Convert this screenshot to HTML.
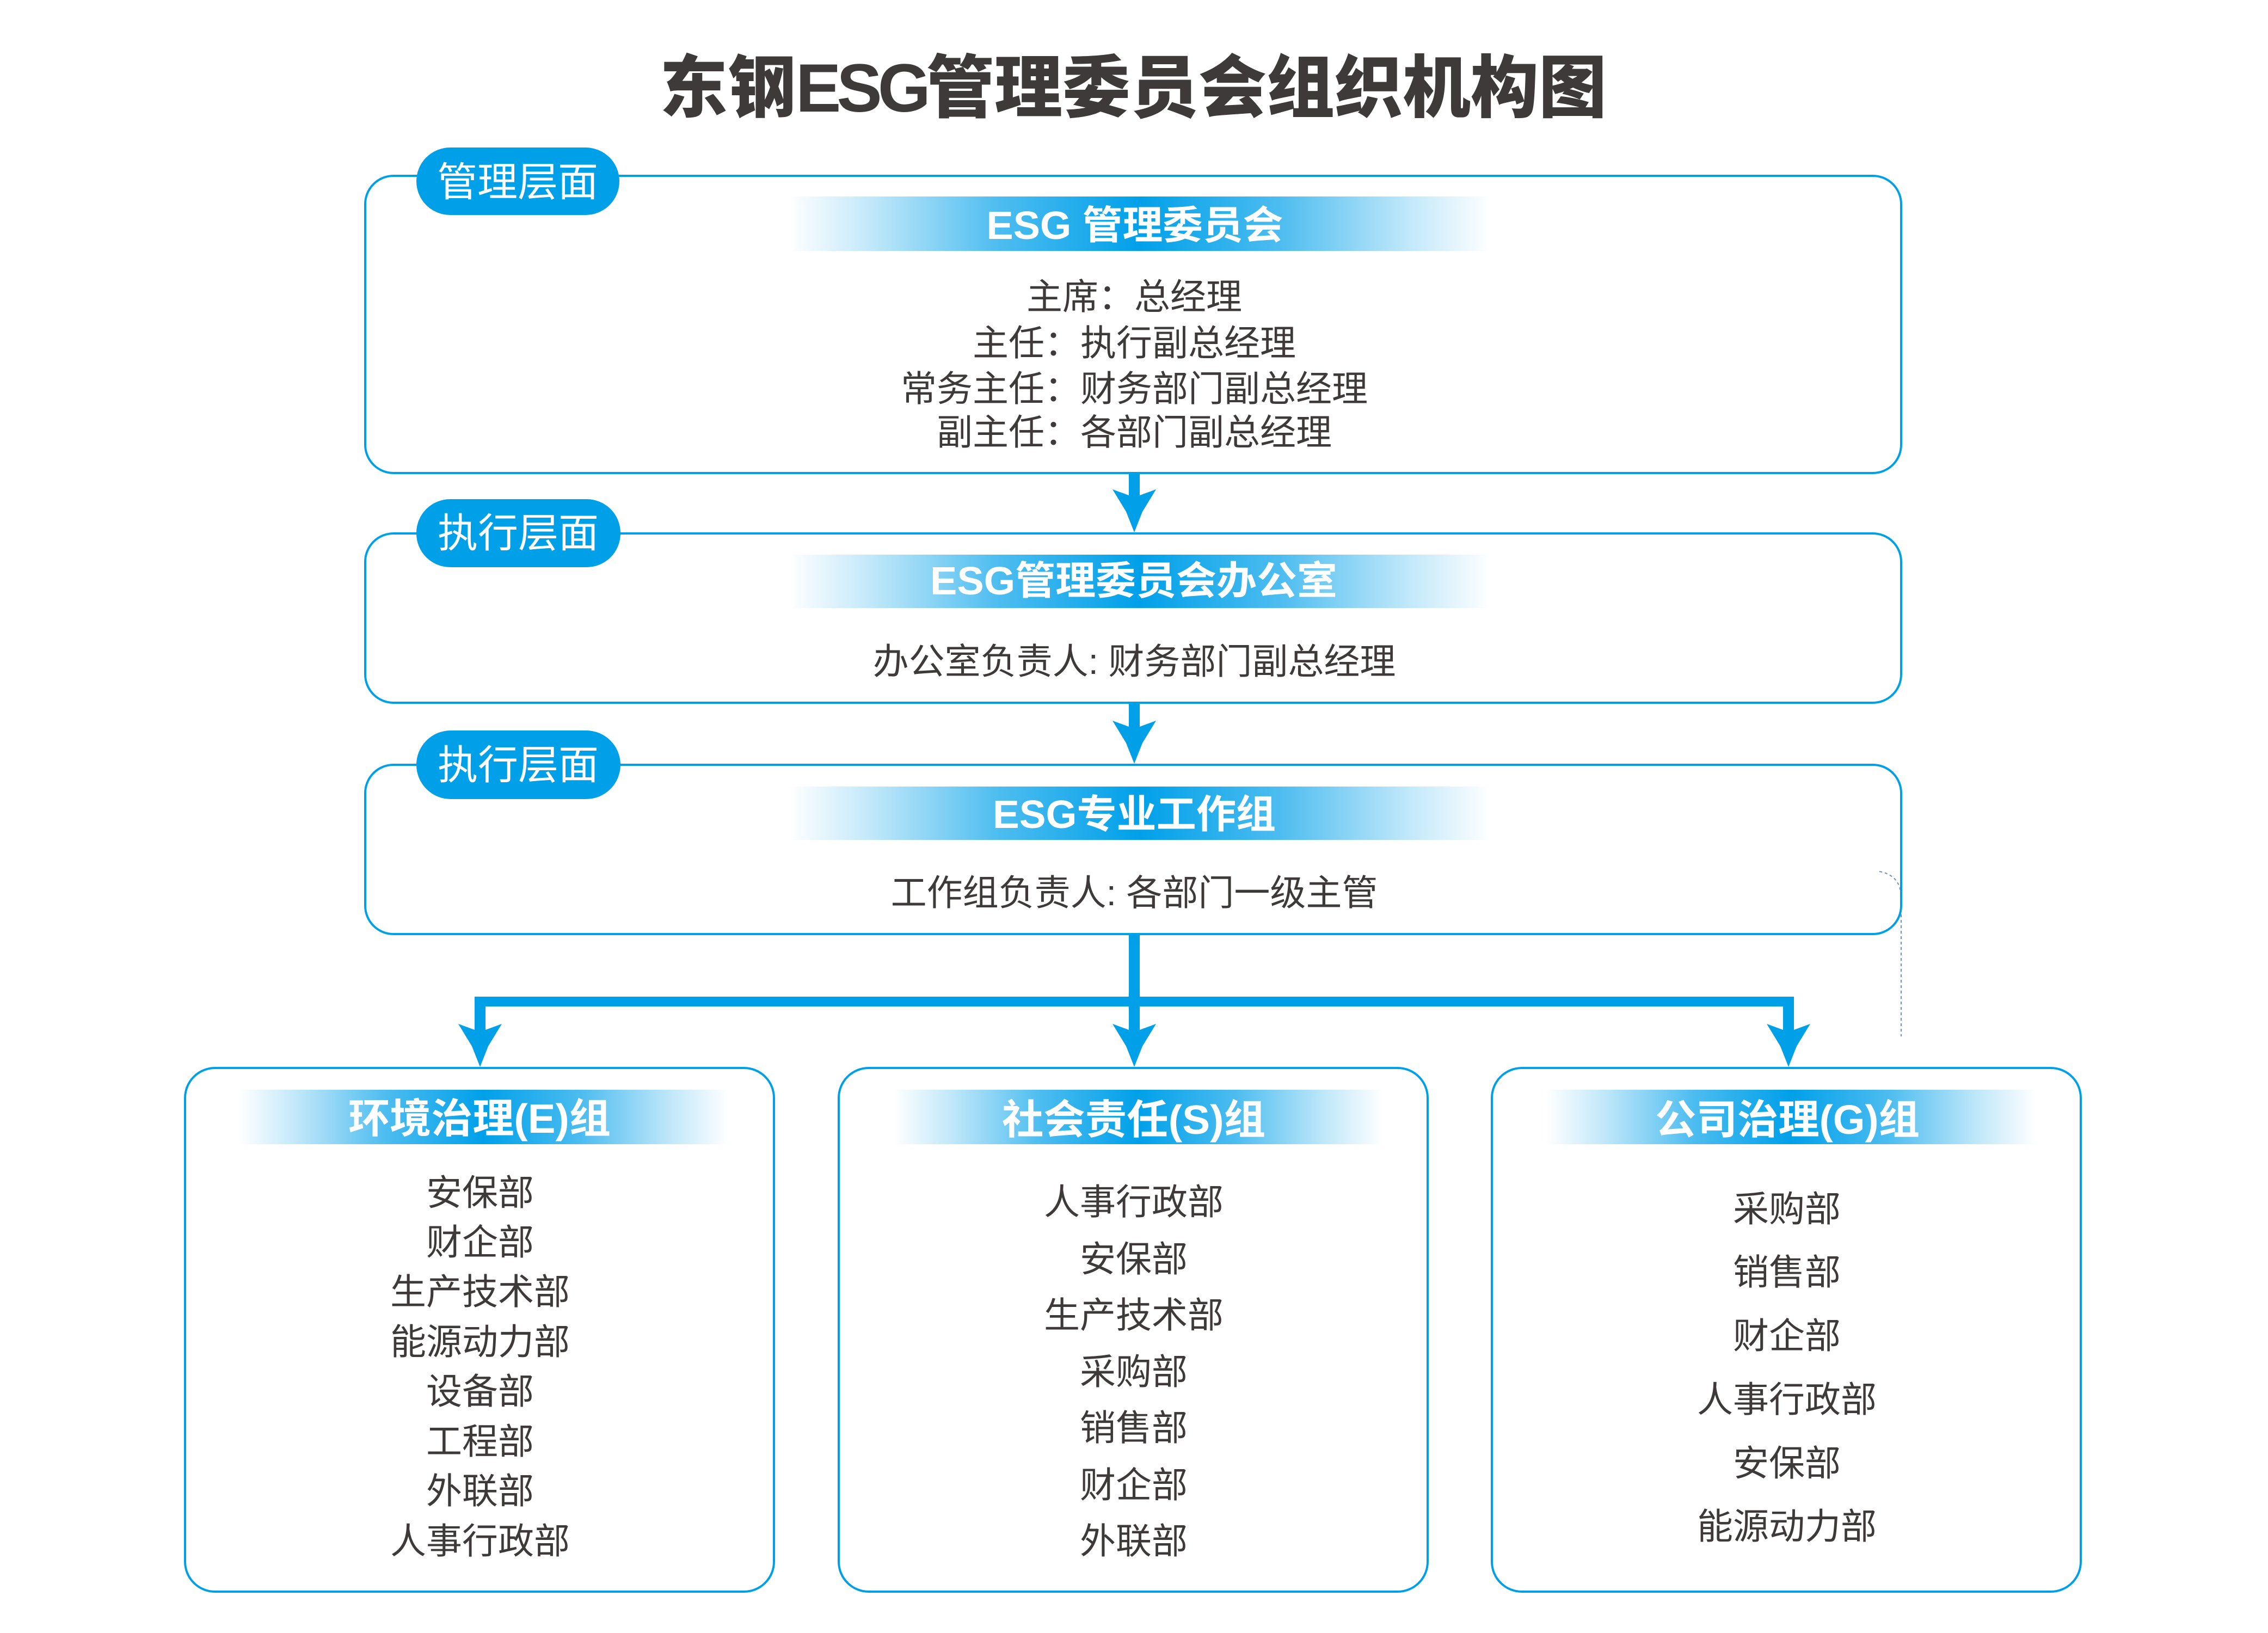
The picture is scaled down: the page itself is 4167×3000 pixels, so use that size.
<!DOCTYPE html>
<html lang="zh-CN">
<head>
<meta charset="utf-8">
<title>东钢ESG管理委员会组织机构图</title>
<style>
  html,body{margin:0;padding:0;background:#ffffff;}
  svg{display:block;}
  text{font-family:"Liberation Sans","Noto Sans CJK SC","WenQuanYi Zen Hei",sans-serif;}
</style>
</head>
<body>
<svg xmlns="http://www.w3.org/2000/svg" width="4167" height="3000" viewBox="0 0 4167 3000">
  <defs>
    <linearGradient id="band" x1="0" y1="0" x2="1" y2="0">
      <stop offset="0" stop-color="#00a0e9" stop-opacity="0"/>
      <stop offset="0.12" stop-color="#00a0e9" stop-opacity="0.25"/>
      <stop offset="0.3" stop-color="#00a0e9" stop-opacity="0.7"/>
      <stop offset="0.5" stop-color="#00a0e9" stop-opacity="1"/>
      <stop offset="0.7" stop-color="#00a0e9" stop-opacity="0.7"/>
      <stop offset="0.88" stop-color="#00a0e9" stop-opacity="0.25"/>
      <stop offset="1" stop-color="#00a0e9" stop-opacity="0"/>
    </linearGradient>
  </defs>

  <rect x="0" y="0" width="4167" height="3000" fill="#ffffff"/>

  <!-- Title -->
  <text x="2082" y="205" text-anchor="middle" font-size="125" font-weight="900" fill="#3e3a39">东钢<tspan letter-spacing="-8">ESG</tspan>管理委员会组织机构图</text>

  <!-- faint dashed guide -->
  <path d="M3453 1601 Q3493 1608 3493 1650 L3493 1904" fill="none" stroke="#6f8fbf" stroke-width="2" stroke-dasharray="5 5"/>

  <!-- Main boxes -->
  <g fill="none" stroke="#00a0e9" stroke-width="4">
    <rect x="671" y="323" width="2822" height="546" rx="52" ry="52"/>
    <rect x="671" y="980" width="2822" height="311" rx="52" ry="52"/>
    <rect x="671" y="1405" width="2822" height="311" rx="52" ry="52"/>
    <rect x="340" y="1962" width="1082" height="962" rx="55" ry="55"/>
    <rect x="1541" y="1962" width="1082" height="962" rx="55" ry="55"/>
    <rect x="2741" y="1962" width="1082" height="962" rx="55" ry="55"/>
  </g>

  <!-- Gradient bands -->
  <rect x="1449" y="361" width="1290" height="100" fill="url(#band)"/>
  <rect x="1449" y="1019" width="1290" height="98" fill="url(#band)"/>
  <rect x="1449" y="1445" width="1290" height="98" fill="url(#band)"/>
  <rect x="439" y="2002" width="899" height="100" fill="url(#band)"/>
  <rect x="1642" y="2002" width="899" height="100" fill="url(#band)"/>
  <rect x="2841" y="2002" width="899" height="100" fill="url(#band)"/>

  <!-- Pills -->
  <rect x="765" y="271" width="373" height="124" rx="62" ry="62" fill="#00a0e9"/>
  <rect x="765" y="917" width="375" height="125" rx="62" ry="62" fill="#00a0e9"/>
  <rect x="765" y="1342" width="375" height="126" rx="63" ry="63" fill="#00a0e9"/>
  <g font-size="74" fill="#ffffff" text-anchor="middle">
    <text x="951" y="360">管理层面</text>
    <text x="952" y="1005">执行层面</text>
    <text x="952" y="1431">执行层面</text>
  </g>

  <!-- Arrows -->
  <g fill="#00a0e9">
    <polygon points="2074,869 2094,869 2094,910 2124,899 2099,940 2084,978 2069,940 2044,899 2074,910"/>
    <polygon points="2074,1291 2094,1291 2094,1335 2124,1324 2099,1365 2084,1403 2069,1365 2044,1324 2074,1335"/>
    <rect x="872" y="1831" width="2424" height="18"/>
    <polygon points="872,1840 892,1840 892,1892 922,1881 897,1922 882,1960 867,1922 842,1881 872,1892"/>
    <polygon points="2074,1716 2094,1716 2094,1892 2124,1881 2099,1922 2084,1960 2069,1922 2044,1881 2074,1892"/>
    <polygon points="3276,1840 3296,1840 3296,1892 3326,1881 3301,1922 3286,1960 3271,1922 3246,1881 3276,1892"/>
  </g>

  <!-- Band titles -->
  <g font-weight="700" fill="#ffffff" text-anchor="middle">
    <text x="2085" y="439" font-size="72" textLength="545" lengthAdjust="spacingAndGlyphs">ESG 管理委员会</text>
    <text x="2083" y="1092" font-size="72" textLength="748" lengthAdjust="spacingAndGlyphs">ESG管理委员会办公室</text>
    <text x="2084" y="1521" font-size="72" textLength="520" lengthAdjust="spacingAndGlyphs">ESG专业工作组</text>
    <text x="881" y="2081" font-size="75" textLength="482" lengthAdjust="spacingAndGlyphs">环境治理(E)组</text>
    <text x="2083" y="2083" font-size="75" textLength="484" lengthAdjust="spacingAndGlyphs">社会责任(S)组</text>
    <text x="3284" y="2083" font-size="75" textLength="486" lengthAdjust="spacingAndGlyphs">公司治理(G)组</text>
  </g>

  <!-- Body text -->
  <g font-size="66" fill="#3e3a39" text-anchor="middle">
    <text x="2084" y="568">主席：总经理</text>
    <text x="2084" y="653">主任：执行副总经理</text>
    <text x="2084" y="737">常务主任：财务部门副总经理</text>
    <text x="2084" y="817">副主任：各部门副总经理</text>

    <text x="2084" y="1238">办公室负责人: 财务部门副总经理</text>
    <text x="2084" y="1663">工作组负责人: 各部门一级主管</text>

    <!-- E group -->
    <text x="882" y="2214">安保部</text>
    <text x="882" y="2305">财企部</text>
    <text x="882" y="2396">生产技术部</text>
    <text x="882" y="2488">能源动力部</text>
    <text x="882" y="2579">设备部</text>
    <text x="882" y="2671">工程部</text>
    <text x="882" y="2762">外联部</text>
    <text x="882" y="2854">人事行政部</text>

    <!-- S group -->
    <text x="2083" y="2231">人事行政部</text>
    <text x="2083" y="2336">安保部</text>
    <text x="2083" y="2439">生产技术部</text>
    <text x="2083" y="2543">采购部</text>
    <text x="2083" y="2646">销售部</text>
    <text x="2083" y="2751">财企部</text>
    <text x="2083" y="2854">外联部</text>

    <!-- G group -->
    <text x="3283" y="2244">采购部</text>
    <text x="3283" y="2360">销售部</text>
    <text x="3283" y="2477">财企部</text>
    <text x="3283" y="2594">人事行政部</text>
    <text x="3283" y="2711">安保部</text>
    <text x="3283" y="2827">能源动力部</text>
  </g>
</svg>
</body>
</html>
